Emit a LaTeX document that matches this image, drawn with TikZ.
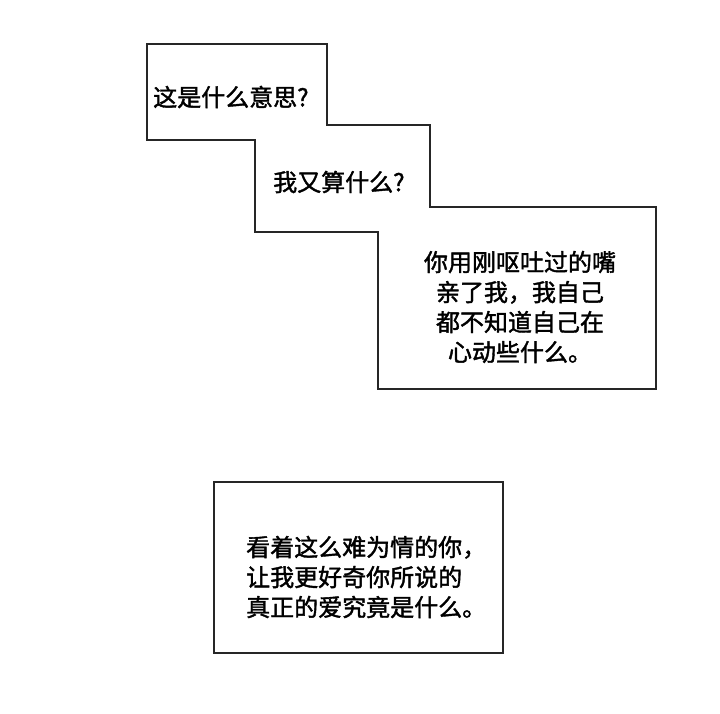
\documentclass[tikz,border=0pt]{standalone}
\usepackage{fontspec}
\newfontfamily\cjk[FakeBold=1.6]{Noto Sans CJK SC}
\begin{document}
\begin{tikzpicture}[x=1pt,y=-1pt,
  panel/.style={draw=black!85,line width=1.3pt,line join=miter},
  speech/.style={font=\cjk\fontsize{24}{30}\selectfont,text=black,inner sep=0pt}]
\useasboundingbox (0,0) rectangle (720,714);
% stepped panel outline
\draw[panel] (147,44) -- (327,44) -- (327,125) -- (430,125) -- (430,207) -- (656,207)
  -- (656,389) -- (378,389) -- (378,232) -- (255,232) -- (255,140) -- (147,140) -- cycle;
% lower box
\draw[panel] (214,482) rectangle (503,653);
\node[speech,anchor=west] (t1) at (153,97) {这是什么意思?};
\node[speech,anchor=west] (t2) at (273,182) {我又算什么?};
\node[speech,align=center] (t3) at (520,307) {你用刚呕吐过的嘴\\亲了我，我自己\\都不知道自己在\\心动些什么。};
\node[speech,align=left,anchor=west] (t4) at (246,577) {看着这么难为情的你，\\让我更好奇你所说的\\真正的爱究竟是什么。};
\end{tikzpicture}
\end{document}
